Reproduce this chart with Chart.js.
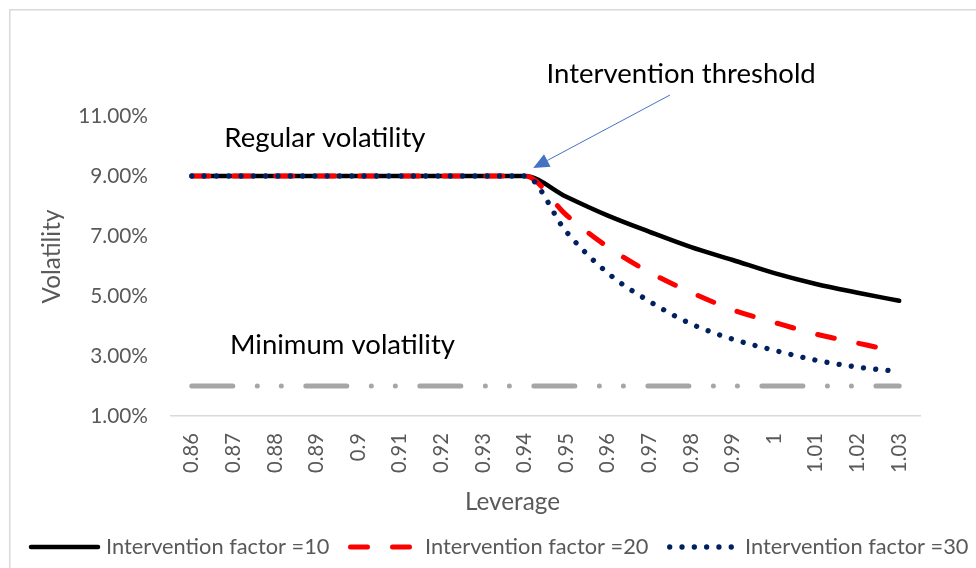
<!DOCTYPE html>
<html>
<head>
<meta charset="utf-8">
<title>Volatility vs leverage</title>
<script src="https://cdn.jsdelivr.net/npm/chart.js@4.4.1/dist/chart.umd.min.js"></script>
<style>
  html, body { margin: 0; padding: 0; background: #ffffff; }
  #wrap { position: relative; width: 976px; height: 568px; }
</style>
</head>
<body>
<div id="wrap"><canvas id="chart" width="976" height="568"></canvas></div>
<script>
// Datos (volatilidad en %)
const leverage = ['0.86', '0.87', '0.88', '0.89', '0.9', '0.91', '0.92', '0.93', '0.94',
                  '0.95', '0.96', '0.97', '0.98', '0.99', '1', '1.01', '1.02', '1.03'];
const factor10 = [9, 9, 9, 9, 9, 9, 9, 9, 9, 8.31, 7.68, 7.14, 6.63, 6.2, 5.76, 5.4, 5.11, 4.84];
const factor20 = [9, 9, 9, 9, 9, 9, 9, 9, 9, 7.7, 6.63, 5.79, 5.12, 4.54, 4.12, 3.73, 3.43, 3.13];
const factor30 = [9, 9, 9, 9, 9, 9, 9, 9, 9, 7.14, 5.76, 4.82, 4.07, 3.56, 3.19, 2.86, 2.63, 2.48];
const minimumVol = [2, 2, 2, 2, 2, 2, 2, 2, 2, 2, 2, 2, 2, 2, 2, 2, 2, 2];
const yTicks = [1, 3, 5, 7, 9, 11];
const seriesNames = ['Intervention factor =10', 'Intervention factor =20', 'Intervention factor =30'];

const FONT = 'Lato';
const GREY_TEXT = '#595959';

// tamaño de fuente para que el texto ocupe el mismo ancho que en la imagen
const measureCtx = document.createElement('canvas').getContext('2d');
function fitSize(text, targetWidth) {
    measureCtx.font = '100px ' + FONT;
    return Math.round(1000 * targetWidth / measureCtx.measureText(text).width) / 10;
}

const tickSizeY = fitSize('11.00%', 70);
const tickSizeX = fitSize('0.86', 40);
const titleSize = fitSize('Leverage', 95);
const legendSize = fitSize('Intervention factor =10', 224);
const noteSize = fitSize('Intervention threshold', 269);

const extras = {
    id: 'extras',
    beforeDraw(chart) {
        const ctx = chart.ctx;
        ctx.save();
        ctx.strokeStyle = '#d9d9d9';
        ctx.lineWidth = 1.5;
        ctx.strokeRect(9.75, 9.75, 1000, 1000);
        ctx.restore();
    },
    afterDraw(chart) {
        const ctx = chart.ctx;
        const xs = chart.scales.x;
        const ys = chart.scales.y;
        ctx.save();

        // titulos de ejes
        ctx.fillStyle = GREY_TEXT;
        ctx.font = titleSize + 'px ' + FONT;
        ctx.textAlign = 'center';
        ctx.textBaseline = 'alphabetic';
        ctx.fillText('Leverage', 512.5, 510);
        ctx.save();
        ctx.translate(60, 256.5);
        ctx.rotate(-Math.PI / 2);
        ctx.fillText('Volatility', 0, 0);
        ctx.restore();

        // anotaciones
        ctx.fillStyle = '#000000';
        ctx.textAlign = 'left';
        ctx.font = noteSize + 'px ' + FONT;
        ctx.fillText('Intervention threshold', 546.5, 83.3);
        ctx.fillText('Regular volatility', 224.3, 146.7);
        ctx.fillText('Minimum volatility', 230, 354.3);

        // flecha hacia el umbral
        const tipX = xs.getPixelForValue(8) + 8.5;
        const tipY = ys.getPixelForValue(9) - 8;
        const fromX = 670, fromY = 95;
        const ang = Math.atan2(tipY - fromY, tipX - fromX);
        const headLen = 16, headHalf = 7;
        const baseX = tipX - Math.cos(ang) * headLen;
        const baseY = tipY - Math.sin(ang) * headLen;
        ctx.strokeStyle = '#4472c4';
        ctx.fillStyle = '#4472c4';
        ctx.lineWidth = 1;
        ctx.beginPath();
        ctx.moveTo(fromX, fromY);
        ctx.lineTo(baseX, baseY);
        ctx.stroke();
        ctx.beginPath();
        ctx.moveTo(tipX, tipY);
        ctx.lineTo(baseX + Math.sin(ang) * headHalf, baseY - Math.cos(ang) * headHalf);
        ctx.lineTo(baseX - Math.sin(ang) * headHalf, baseY + Math.cos(ang) * headHalf);
        ctx.closePath();
        ctx.fill();

        // leyenda
        const slots = [
            { x0: 31, x1: 98, tx: 106 },
            { x0: 350.5, x1: 412, tx: 425 },
            { x0: 669.7, x1: 732, tx: 745 }
        ];
        ctx.font = legendSize + 'px ' + FONT;
        slots.forEach((s, i) => {
            const ds = chart.data.datasets[i];
            ctx.strokeStyle = ds.borderColor;
            ctx.lineWidth = ds.borderWidth;
            ctx.lineCap = 'round';
            ctx.setLineDash(ds.borderDash || []);
            ctx.beginPath();
            ctx.moveTo(s.x0, 547);
            ctx.lineTo(s.x1, 547);
            ctx.stroke();
            ctx.setLineDash([]);
            ctx.fillStyle = GREY_TEXT;
            ctx.fillText(ds.label, s.tx, 554);
        });
        ctx.restore();
    }
};

const lineDefaults = {
    pointRadius: 0,
    pointHoverRadius: 0,
    fill: false,
    borderCapStyle: 'round',
    borderJoinStyle: 'round',
    cubicInterpolationMode: 'monotone'
};

new Chart(document.getElementById('chart'), {
    type: 'line',
    data: {
        labels: leverage,
        datasets: [
            Object.assign({ label: seriesNames[0], data: factor10, borderColor: '#000000', borderWidth: 4.5, order: 3 }, lineDefaults),
            Object.assign({ label: seriesNames[1], data: factor20, borderColor: '#ff0000', borderWidth: 5, borderDash: [17, 25], order: 2 }, lineDefaults),
            Object.assign({ label: seriesNames[2], data: factor30, borderColor: '#002060', borderWidth: 5.3, borderDash: [0.01, 12.3], order: 1 }, lineDefaults),
            Object.assign({ label: 'Minimum volatility', data: minimumVol, borderColor: '#a6a6a6', borderWidth: 5, borderDash: [41, 24.5, 0.01, 24, 0.01, 24.5], order: 4 }, lineDefaults)
        ]
    },
    options: {
        responsive: false,
        animation: false,
        devicePixelRatio: 1,
        layout: { padding: { left: 0, right: 56, top: 86, bottom: 0 } },
        plugins: {
            legend: { display: false },
            tooltip: { enabled: false }
        },
        scales: {
            x: {
                type: 'category',
                offset: true,
                grid: { display: false, drawTicks: false },
                border: { display: true, color: '#d9d9d9', width: 1.5 },
                ticks: {
                    autoSkip: false,
                    minRotation: 90,
                    maxRotation: 90,
                    padding: 17,
                    color: GREY_TEXT,
                    font: { family: FONT, size: tickSizeX }
                },
                afterFit(scale) { scale.height = 152; }
            },
            y: {
                min: 1,
                max: 12,
                grid: { display: false, drawTicks: false },
                border: { display: false },
                ticks: {
                    padding: 23,
                    color: GREY_TEXT,
                    font: { family: FONT, size: tickSizeY },
                    callback: v => v.toFixed(2) + '%'
                },
                afterBuildTicks(scale) { scale.ticks = yTicks.map(v => ({ value: v })); },
                afterFit(scale) { scale.width = 171; }
            }
        }
    },
    plugins: [extras]
});
</script>
</body>
</html>
